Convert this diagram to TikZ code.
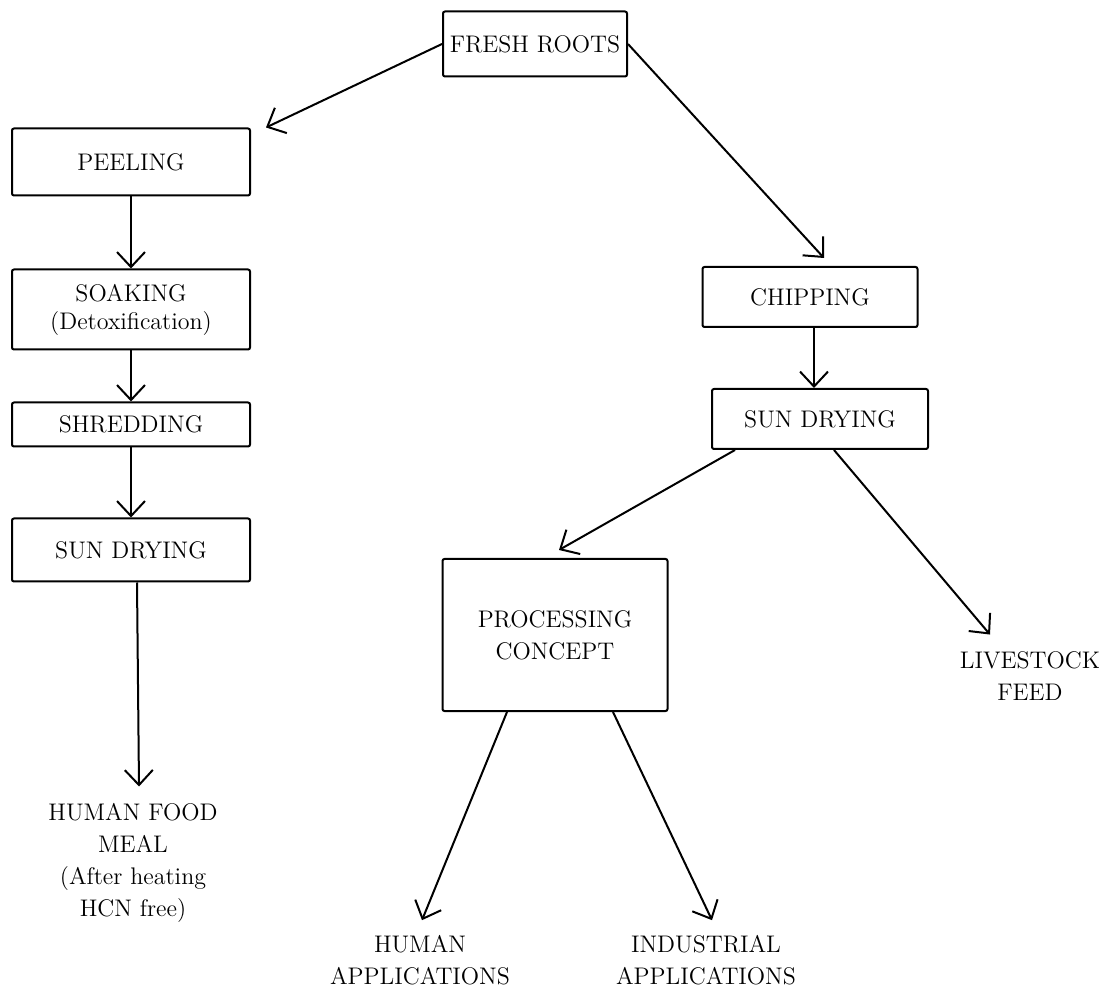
\documentclass[tikz,border=0pt]{standalone}
\usepackage{tikz}
\usetikzlibrary{arrows.meta}
\usetikzlibrary{positioning}

\begin{document}
\begin{tikzpicture}[x=0.5pt,y=-0.5pt,box/.style={draw, fill=white,rounded corners=1pt,align=center,font=\large,line width=1pt},
	lbl/.style={align=center,font=\large\setlength{\baselineskip}{16pt},inner sep=2pt},
	line width=1pt,>={Straight Barb[length=7.5pt,width=14pt,line width=1pt]}]
		\useasboundingbox (0,0) rectangle (1103,988);
		
		\node[box,minimum width=92pt,minimum height=32.5pt] at (535,44) (fresh) {FRESH ROOTS};
		
		% left branch
		\node[box,minimum width=119pt,minimum height=33.5pt] at (131,162) (peel) {PEELING};
		\node[box,minimum width=119pt,minimum height=40pt,below=36pt of peel] (soak) {SOAKING\\(Detoxification)};
		\node[box,minimum width=119pt,minimum height=22pt,below=25.5pt of soak] (shred) {SHREDDING};
		\node[box,minimum width=119pt,minimum height=31.5pt,below=35pt of shred] (dry1) {SUN DRYING};
		\node[lbl,below=108pt of dry1,xshift=1pt] (food) {HUMAN FOOD\\MEAL\\(After heating\\HCN free)};
		\draw[->] (fresh.west) -- ([xshift=7.5pt]peel.north east);
		\draw[->] (peel) -- (soak);
		\draw[->] (soak) -- (shred);
		\draw[->] (shred) -- (dry1);
		\draw[->] ([xshift=3pt]dry1.south) -- ([xshift=3pt,yshift=6pt]food.north);
		
		% right branch
		\node[box,minimum width=107.5pt,minimum height=30pt] at (810,297) (chip) {CHIPPING};
		\node[box,minimum width=108pt,minimum height=30pt,below=30pt of chip,xshift=5pt] (dry2) {SUN DRYING};
		\node[box,minimum width=112.5pt,minimum height=76pt] at (555,635) (proc) {PROCESSING\\[2pt]CONCEPT};
		\node[lbl] at (1030,676) (feed) {LIVESTOCK\\FEED};
		\node[lbl] at (420,960) (human) {HUMAN\\APPLICATIONS};
		\node[lbl] at (706,960) (indus) {INDUSTRIAL\\APPLICATIONS};
		\draw[->] (fresh.east) -- ([xshift=7pt,yshift=4pt]chip.north);
		\draw[->] ([xshift=2pt]chip.south) -- ([xshift=-3pt]dry2.north);
		\draw[->] ([xshift=12pt]dry2.south west) -- ([xshift=2pt,yshift=4pt]proc.north);
		\draw[->] ([xshift=7pt]dry2.south) -- ([xshift=-20pt,yshift=6pt]feed.north);
		\draw[->] ([xshift=-24pt]proc.south) -- ([xshift=1pt,yshift=5pt]human.north);
		\draw[->] ([xshift=29pt]proc.south) -- ([xshift=3pt,yshift=5pt]indus.north);
		
\end{tikzpicture}
\end{document}
